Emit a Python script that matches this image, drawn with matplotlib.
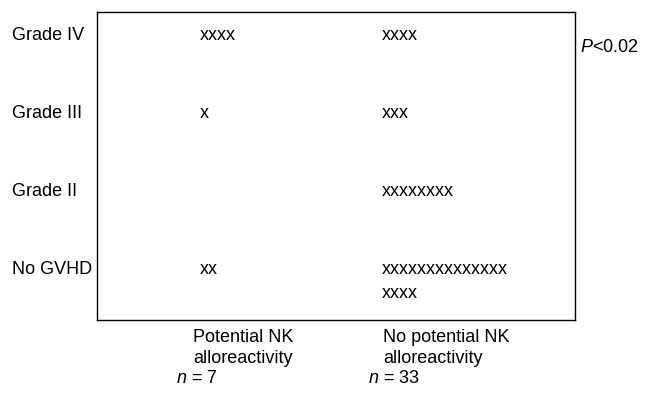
import matplotlib
matplotlib.use('Agg')
import matplotlib.pyplot as plt
import matplotlib.transforms as mtransforms

grades = ['No GVHD', 'Grade II', 'Grade III', 'Grade IV']
groups = ['Potential NK\nalloreactivity', 'No potential NK\nalloreactivity']
group_n = [7, 33]
# patients per grade (same order as grades), one list per group
counts_potential = [2, 0, 1, 4]
counts_no_potential = [18, 8, 3, 4]
counts = [counts_potential, counts_no_potential]
p_text = '$P$<0.02'

plt.rcParams['font.family'] = 'Liberation Sans'
plt.rcParams['mathtext.fontset'] = 'custom'
plt.rcParams['mathtext.rm'] = 'Liberation Sans'
plt.rcParams['mathtext.it'] = 'Liberation Sans:italic'
fs = 13
per_line = 14

fig = plt.figure(figsize=(6.5, 3.94), dpi=100)
ax = fig.add_axes([97 / 650, 74 / 394, 478 / 650, 308 / 394])
ax.set_xlim(-0.566, 2.059)
ax.set_ylim(-0.64, 3.294)
ax.set_xticks([])
ax.set_yticks([])
for s in ax.spines.values():
    s.set_linewidth(1.0)
    s.set_color('black')

# row labels at the left edge of the figure
lab_tr = mtransforms.blended_transform_factory(fig.transFigure, ax.transData)
for i, g in enumerate(grades):
    ax.text(12 / 650, i, g, transform=lab_tr, ha='left', va='center', fontsize=fs)

# x marks, one per patient
for col, col_counts in enumerate(counts):
    for row, c in enumerate(col_counts):
        lines = []
        while c > 0:
            lines.append('x' * min(c, per_line))
            c -= per_line
        for k, line in enumerate(lines):
            ax.annotate(line, (col, row), xytext=(0, -17.3 * k), textcoords='offset points',
                        ha='left', va='center', fontsize=fs)

# group labels under the box
label_offsets = [-7, 1]
n_offsets = [-24, -14]
for col, name in enumerate(groups):
    ax.annotate(name, (col, 0), xycoords=('data', 'axes fraction'), xytext=(label_offsets[col], -9),
                textcoords='offset pixels', ha='left', va='top', fontsize=fs, linespacing=1.3)
    ax.annotate('$n$ = %d' % group_n[col], (col, 0), xycoords=('data', 'axes fraction'),
                xytext=(n_offsets[col], -50), textcoords='offset pixels',
                ha='left', va='top', fontsize=fs)

ax.text(1.01, 0.885, p_text, transform=ax.transAxes, ha='left', va='center', fontsize=fs)

fig.savefig('out.png', dpi=100)
